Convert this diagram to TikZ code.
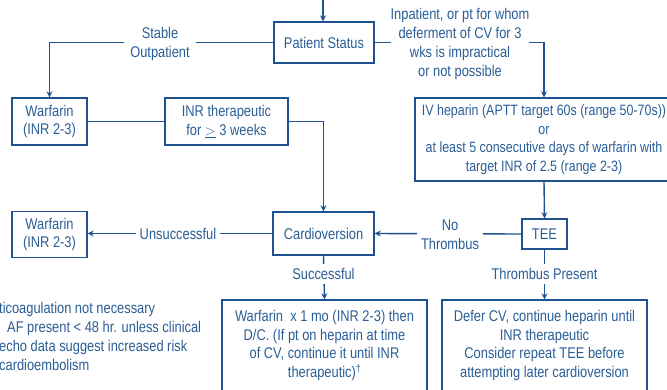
\documentclass[tikz,border=0pt]{standalone}
\usepackage{fontspec}
\setmainfont{Liberation Sans}[FakeStretch=0.83]
\usetikzlibrary{arrows.meta}
\definecolor{lineblue}{RGB}{31,82,144}
\definecolor{textblue}{RGB}{42,94,150}
\tikzset{
  box/.style={draw=lineblue, line width=1.4pt, inner sep=0pt, align=center,
    text=textblue, font=\fontsize{15.5}{18.7}\selectfont},
  lbl/.style={fill=white, inner sep=0pt, align=center, text=textblue,
    font=\fontsize{15.5}{18.7}\selectfont},
  conn/.style={draw=lineblue, line width=1.4pt},
  arr/.style={conn, -{Stealth[length=6pt,width=6pt]}}
}
\begin{document}
\begin{tikzpicture}[x=1pt,y=-1pt]
\useasboundingbox (0,0) rectangle (667,389);
\clip (0,0) rectangle (667,389);
% boxes
\node[box, minimum width=100, minimum height=41] (ps) at (324,42.5) {Patient Status};
\node[box, minimum width=75, minimum height=47] (w1) at (49.5,121.5) {Warfarin\\(INR 2-3)};
\node[box, minimum width=123, minimum height=47] (inr) at (226.5,121.5) {INR therapeutic\\for $\underline{>}$ 3 weeks};
\node[box, minimum width=258, minimum height=83, font=\fontsize{15}{18.7}\selectfont] (iv) at (544,139.5) {IV heparin (APTT target 60s (range 50-70s))\\or\\at least 5 consecutive days of warfarin with\\target INR of 2.5 (range 2-3)};
\node[box, minimum width=101, minimum height=43] (cv) at (323.5,233.5) {Cardioversion};
\node[box, minimum width=75, minimum height=46] (w2) at (49.5,234.5) {Warfarin\\(INR 2-3)};
\node[box, minimum width=45, minimum height=30] (tee) at (544.5,234) {TEE};
\node[box, minimum width=205, minimum height=91] (b1) at (324.5,345.5) {Warfarin\ \ x 1 mo (INR 2-3) then\\D/C. (If pt on heparin at time\\of CV, continue it until INR\\therapeutic)\raisebox{5pt}{\fontsize{11}{11}\selectfont\textdagger}};
\node[box, minimum width=205, minimum height=91] (b2) at (544.5,345.5) {Defer CV, continue heparin until\\INR therapeutic\\Consider repeat TEE before\\attempting later cardioversion};
\coordinate (top) at (323,-5);
% connectors
\draw[arr] (top) -- (top |- ps.north);
\draw[arr] (ps.west) -| (w1.north);
\draw[conn] (w1.east) -- (inr.west);
\draw[arr] (inr.east) -| (cv.north);
\draw[arr] (ps.east) -| (iv.north);
\draw[arr] (iv.south) -- (tee.north);
\draw[arr] (tee.west) -- (cv.east);
\draw[arr] (cv.west) -- (cv.west -| w2.east);
\draw[arr] (cv.south) -- (b1.north);
\draw[arr] (tee.south) -- (b2.north);
% labels
\node[lbl, inner xsep=6pt] (lstable) at (160,44) {Stable\\Outpatient};
\node[lbl] (linp) at (460,44) {Inpatient, or pt for whom\\deferment of CV for 3\\wks is impractical\\or not possible};
\node[lbl, inner xsep=4pt] (lno) at (450,234.5) {No\\Thrombus};
\node[lbl, inner xsep=4pt, inner ysep=2pt] (lunsucc) at (178,233.5) {Unsuccessful};
\node[lbl, inner xsep=4pt, inner ysep=4pt] (lsucc) at (323.5,274) {Successful};
\node[lbl, inner xsep=4pt, inner ysep=4pt] (lthr) at (544.5,274) {Thrombus Present};
\node[lbl, fill=none, anchor=west, align=left] (note) at (-1,336.5) {ticoagulation not necessary\\\hspace*{8pt}AF present < 48 hr. unless clinical\\echo data suggest increased risk\\cardioembolism};
\end{tikzpicture}
\end{document}
